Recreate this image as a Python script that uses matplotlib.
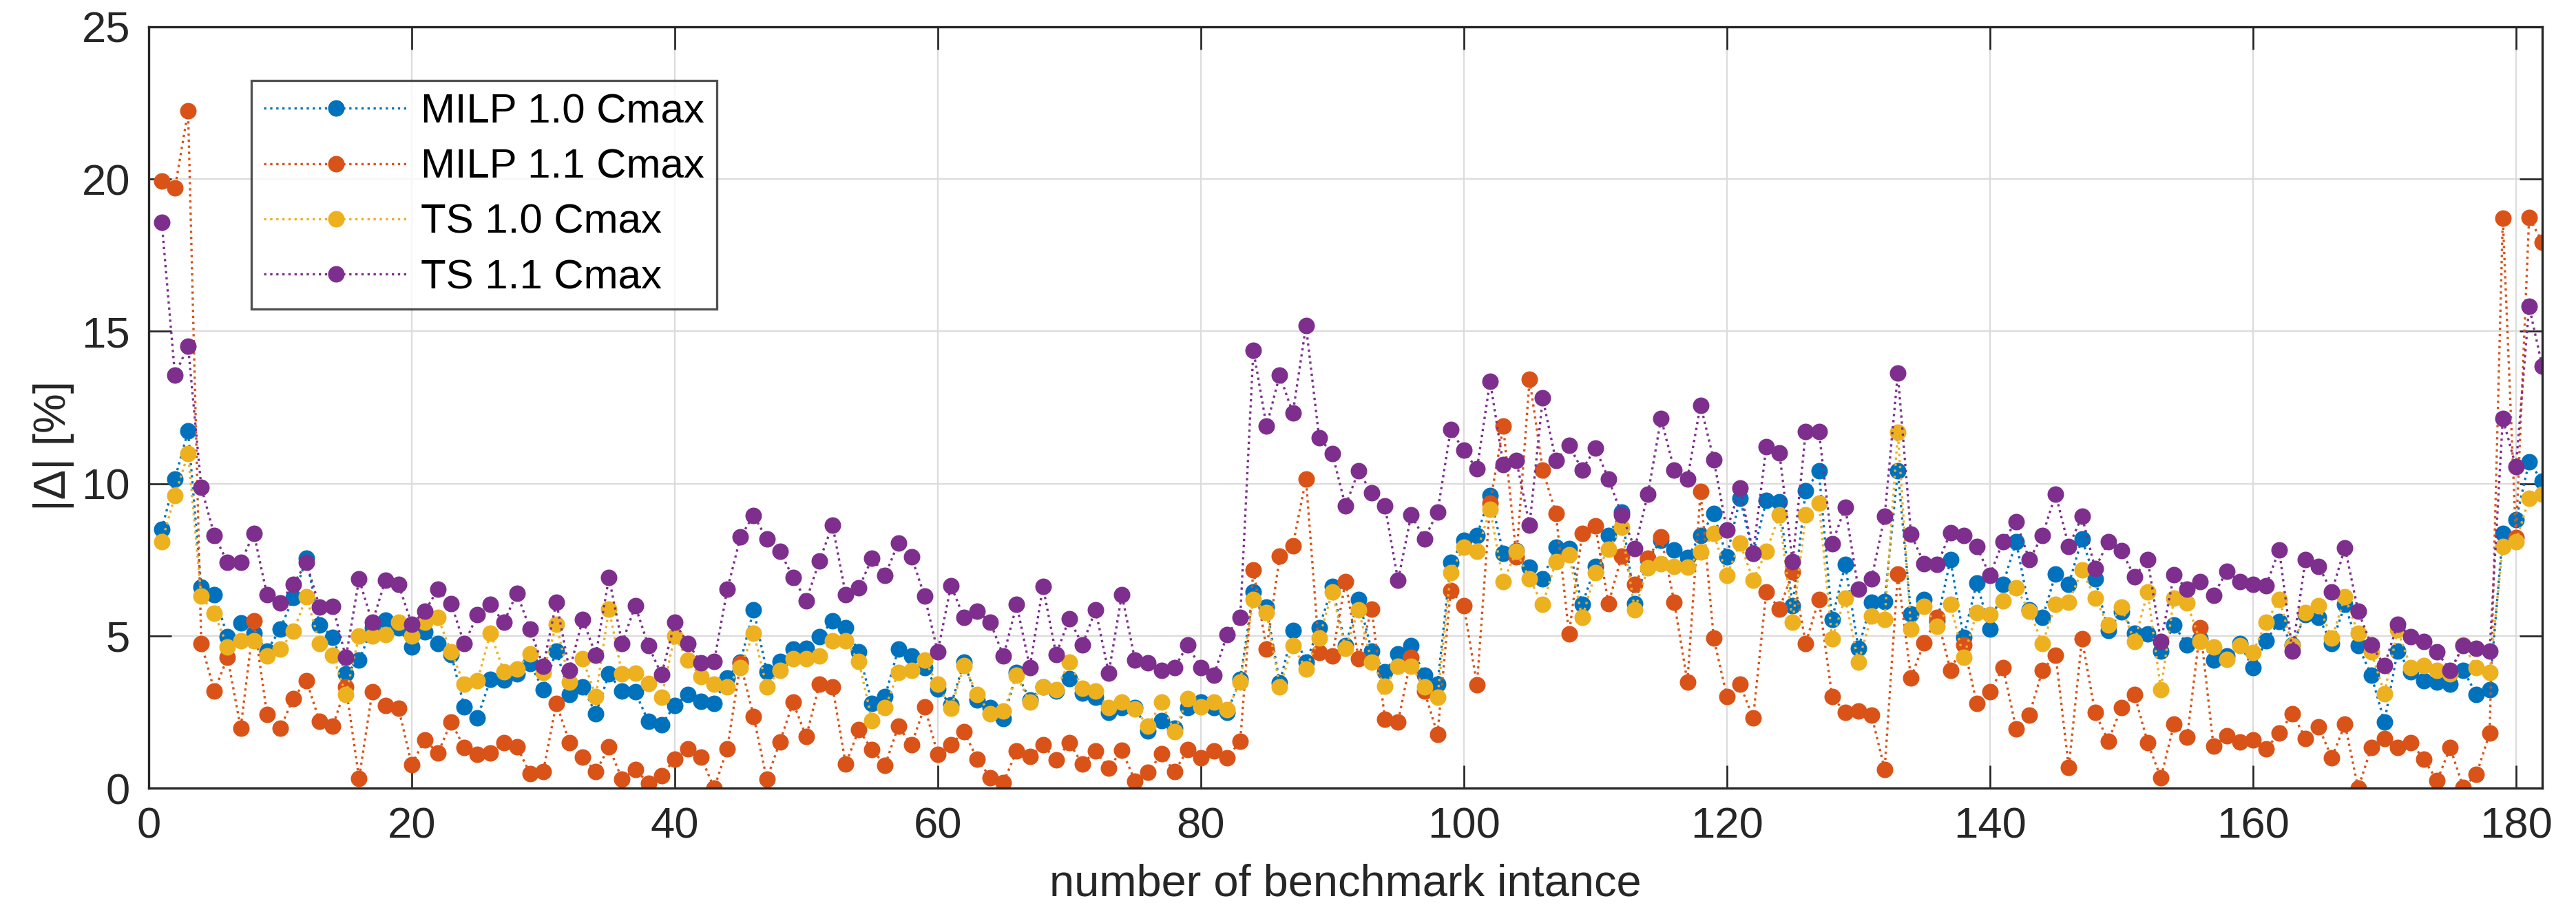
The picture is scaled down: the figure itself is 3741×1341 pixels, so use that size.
import numpy as np
import matplotlib
matplotlib.use("Agg")
import matplotlib.pyplot as plt

plt.rcParams['font.family'] = ['Liberation Sans', 'DejaVu Sans']

# benchmark instance numbers
instances = np.arange(1, 183)

milp_10 = [8.51, 10.16, 11.73, 6.6, 6.36, 4.98, 5.42, 5.1, 4.51, 5.22,
           6.26, 7.55, 5.35, 4.96, 3.76, 4.2, 5.27, 5.52, 5.27, 4.63,
           5.13, 4.74, 4.4, 2.68, 2.31, 3.58, 3.55, 3.75, 4.09, 3.24,
           4.51, 3.07, 3.33, 2.45, 3.75, 3.19, 3.16, 2.19, 2.08, 2.72,
           3.07, 2.85, 2.79, 3.63, 4.14, 5.86, 3.83, 4.17, 4.56, 4.59,
           4.98, 5.49, 5.27, 4.47, 2.79, 3.02, 4.57, 4.34, 3.97, 3.27,
           2.73, 4.14, 2.9, 2.65, 2.28, 3.8, 2.9, 3.33, 3.19, 3.6,
           3.12, 2.99, 2.48, 2.65, 2.65, 1.89, 2.23, 1.98, 2.65, 2.82,
           2.65, 2.48, 3.58, 6.45, 5.94, 3.46, 5.18, 4.14, 5.27, 6.62,
           4.68, 6.2, 4.51, 3.83, 4.42, 4.68, 3.71, 3.41, 7.41, 8.14,
           8.3, 9.62, 7.71, 7.8, 7.26, 6.87, 7.92, 7.88, 6.03, 7.29,
           8.3, 9.06, 6.06, 7.51, 8.14, 7.83, 7.58, 8.3, 9.01, 7.6,
           9.52, 7.7, 9.44, 9.4, 5.99, 9.77, 10.42, 5.55, 7.34, 4.59,
           6.11, 6.14, 10.42, 5.72, 6.2, 5.5, 7.5, 4.96, 6.74, 5.23,
           6.7, 8.1, 5.86, 5.6, 7.04, 6.7, 8.19, 6.87, 5.18, 5.8,
           5.1, 5.06, 4.51, 5.35, 4.71, 4.9, 4.2, 4.34, 4.76, 3.95,
           4.84, 5.47, 4.71, 5.69, 5.6, 4.76, 6.03, 4.68, 3.71, 2.18,
           4.51, 3.83, 3.53, 3.49, 3.41, 3.88, 3.07, 3.24, 8.36, 8.81,
           10.72, 10.08]

milp_11 = [19.94, 19.7, 22.23, 4.76, 3.19, 4.3, 1.98, 5.49, 2.43, 1.96,
           2.95, 3.54, 2.19, 2.04, 3.33, 0.32, 3.16, 2.72, 2.63, 0.78,
           1.59, 1.15, 2.18, 1.33, 1.11, 1.15, 1.5, 1.37, 0.49, 0.54,
           2.79, 1.5, 1.03, 0.54, 1.35, 0.29, 0.62, 0.17, 0.41, 0.96,
           1.3, 1.03, 0.0, 1.3, 4.1, 2.36, 0.29, 1.52, 2.82, 1.69,
           3.41, 3.33, 0.79, 1.92, 1.27, 0.76, 2.03, 1.43, 2.68, 1.11,
           1.43, 1.86, 0.96, 0.35, 0.19, 1.23, 1.05, 1.42, 0.93, 1.5,
           0.79, 1.22, 0.66, 1.25, 0.24, 0.52, 1.13, 0.54, 1.27, 1.0,
           1.23, 1.0, 1.54, 7.16, 4.57, 7.61, 7.97, 10.16, 4.46, 4.34,
           6.79, 4.25, 5.89, 2.26, 2.18, 4.3, 3.19, 1.77, 6.5, 5.99,
           3.39, 9.37, 11.88, 7.6, 13.42, 10.45, 9.03, 5.06, 8.36, 8.61,
           6.06, 7.63, 6.7, 7.55, 8.25, 6.11, 3.49, 9.74, 4.93, 3.02,
           3.41, 2.31, 6.45, 5.89, 7.09, 4.76, 6.2, 3.02, 2.48, 2.53,
           2.4, 0.62, 7.04, 3.63, 4.78, 5.6, 3.88, 4.71, 2.79, 3.16,
           3.97, 1.94, 2.41, 3.88, 4.37, 0.68, 4.9, 2.48, 1.55, 2.65,
           3.07, 1.5, 0.34, 2.11, 1.67, 5.27, 1.38, 1.72, 1.52, 1.59,
           1.3, 1.81, 2.45, 1.64, 2.01, 1.0, 2.1, 0.0, 1.33, 1.64,
           1.33, 1.5, 0.96, 0.25, 1.33, 0.02, 0.46, 1.81, 18.72, 8.22,
           18.74, 17.93]

ts_10 = [8.09, 9.6, 10.99, 6.31, 5.74, 4.64, 4.84, 4.84, 4.34, 4.56,
         5.15, 6.28, 4.76, 4.37, 3.07, 5.01, 5.0, 5.05, 5.44, 5.01,
         5.44, 5.6, 4.47, 3.41, 3.53, 5.1, 3.83, 3.92, 4.42, 3.8,
         5.39, 3.49, 4.25, 3.02, 5.89, 3.75, 3.78, 3.44, 2.99, 5.01,
         4.2, 3.66, 3.41, 3.33, 3.97, 5.1, 3.33, 3.87, 4.25, 4.25,
         4.34, 4.84, 4.84, 4.17, 2.23, 2.65, 3.8, 3.87, 4.2, 3.41,
         2.62, 4.03, 3.07, 2.45, 2.53, 3.71, 2.82, 3.33, 3.24, 4.14,
         3.29, 3.19, 2.65, 2.82, 2.6, 2.03, 2.82, 1.86, 2.94, 2.68,
         2.82, 2.57, 3.49, 6.2, 5.77, 3.33, 4.68, 3.92, 4.93, 6.45,
         4.59, 5.86, 4.14, 3.36, 4.0, 4.0, 3.33, 2.99, 7.07, 7.92,
         7.77, 9.15, 6.79, 7.77, 6.87, 6.03, 7.44, 7.66, 5.6, 7.07,
         7.85, 8.56, 5.86, 7.24, 7.38, 7.29, 7.26, 7.75, 8.36, 6.99,
         8.05, 6.84, 7.77, 8.98, 5.44, 8.98, 9.37, 4.9, 6.25, 4.14,
         5.66, 5.55, 11.68, 5.23, 5.98, 5.32, 6.03, 4.29, 5.77, 5.69,
         6.16, 6.57, 5.82, 4.76, 6.03, 6.11, 7.16, 6.25, 5.35, 5.94,
         4.81, 6.45, 3.24, 6.25, 6.08, 4.81, 4.64, 4.22, 4.68, 4.46,
         5.44, 6.2, 4.68, 5.77, 5.99, 4.93, 6.28, 5.1, 4.47, 3.11,
         5.2, 3.97, 4.03, 3.88, 3.75, 4.71, 3.95, 3.8, 7.93, 8.09,
         9.52, 9.66]

ts_11 = [18.57, 13.57, 14.52, 9.89, 8.3, 7.41, 7.41, 8.37, 6.35, 6.09,
         6.7, 7.41, 5.94, 5.98, 4.29, 6.87, 5.44, 6.82, 6.7, 5.39,
         5.81, 6.53, 6.06, 4.74, 5.69, 6.03, 5.44, 6.41, 5.22, 4.0,
         6.11, 3.87, 5.55, 4.37, 6.92, 4.76, 5.99, 4.68, 3.73, 5.44,
         4.76, 4.12, 4.17, 6.53, 8.25, 8.96, 8.19, 7.78, 6.92, 6.16,
         7.46, 8.64, 6.36, 6.57, 7.55, 6.99, 8.05, 7.6, 6.31, 4.47,
         6.65, 5.6, 5.82, 5.44, 4.34, 6.03, 3.97, 6.62, 4.39, 5.57,
         4.71, 5.86, 3.78, 6.36, 4.2, 4.12, 3.87, 3.95, 4.71, 3.95,
         3.71, 5.05, 5.6, 14.38, 11.88, 13.57, 12.31, 15.18, 11.51, 10.99,
         9.27, 10.42, 9.69, 9.27, 6.82, 8.98, 8.19, 9.06, 11.77, 11.09,
         10.48, 13.37, 10.62, 10.75, 8.64, 12.81, 10.75, 11.26, 10.45, 11.17,
         10.16, 8.98, 7.88, 9.66, 12.14, 10.45, 10.16, 12.58, 10.79, 8.47,
         9.86, 7.71, 11.21, 11.01, 7.43, 11.72, 11.72, 8.02, 9.23, 6.53,
         6.87, 8.93, 13.62, 8.34, 7.38, 7.34, 8.39, 8.3, 7.93, 6.99,
         8.1, 8.76, 7.5, 8.3, 9.66, 7.93, 8.93, 7.21, 8.09, 7.8,
         6.95, 7.51, 4.81, 7.01, 6.53, 6.79, 6.33, 7.12, 6.79, 6.7,
         6.65, 7.83, 4.51, 7.51, 7.29, 6.45, 7.9, 5.82, 4.7, 4.03,
         5.39, 4.98, 4.81, 4.47, 3.87, 4.68, 4.59, 4.51, 12.14, 10.55,
         15.82, 13.86]

series = [milp_10, milp_11, ts_10, ts_11]
labels = ['MILP 1.0 Cmax', 'MILP 1.1 Cmax', 'TS 1.0 Cmax', 'TS 1.1 Cmax']
colors = ['#0072BD', '#D95319', '#EDB120', '#7E2F8E']

fig = plt.figure(figsize=(3741 / 240, 1341 / 240), dpi=240)
ax = fig.add_axes([0.0577, 0.146, 0.9292, 0.825])

for vals, lab, col in zip(series, labels, colors):
    ax.plot(instances, vals, linestyle=':', linewidth=1.0, color=col,
            marker='o', markersize=7.2, markeredgewidth=0, label=lab)

ax.set_xlim(0, 182)
ax.set_ylim(0, 25)
ax.set_xticks(np.arange(0, 181, 20))
ax.set_yticks(np.arange(0, 26, 5))
ax.grid(True, color='#dcdcdc', linewidth=0.7)
ax.set_axisbelow(True)

for sp in ax.spines.values():
    sp.set_color('#262626')
    sp.set_linewidth(1.0)
ax.tick_params(direction='in', length=10, width=0.8, colors='#262626',
               labelsize=19, top=True, right=True, pad=8)
ax.tick_params(axis='x', labelcolor='#262626')

ax.set_xlabel('number of benchmark intance', fontsize=19.5, color='#262626',
              labelpad=7)
ax.set_ylabel('|Δ| [%]', fontsize=19.5, color='#262626')
ax.yaxis.set_label_coords(-0.031, 0.45)

leg = ax.legend(loc='upper left', bbox_to_anchor=(0.0429, 0.929),
                borderaxespad=0, fontsize=18, frameon=True, fancybox=False,
                edgecolor='#262626', handlelength=3.5, handletextpad=0.3,
                labelspacing=0.42, borderpad=0.3)
leg.get_frame().set_linewidth(1.0)

fig.savefig('out.png', dpi=240, facecolor='white')
